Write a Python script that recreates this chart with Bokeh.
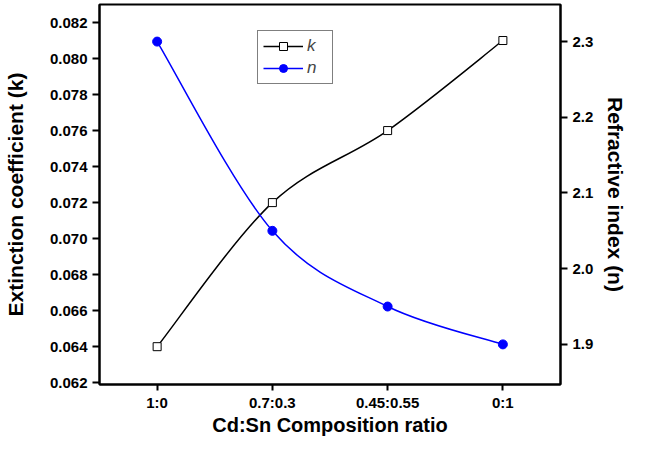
from bokeh.plotting import figure
from bokeh.models import (Range1d, LinearAxis, FixedTicker, PrintfTickFormatter,
                          ColumnDataSource, Legend, LegendItem)
from bokeh.embed import file_html
from bokeh.resources import INLINE

# ---- data ----
categories = ["1:0", "0.7:0.3", "0.45:0.55", "0:1"]
k_values = [0.064, 0.072, 0.076, 0.081]
n_values = [2.30, 2.05, 1.95, 1.90]
k_ticks = [0.062, 0.064, 0.066, 0.068, 0.070, 0.072, 0.074, 0.076, 0.078, 0.080, 0.082]
n_ticks = [1.9, 2.0, 2.1, 2.2, 2.3]
x_title = "Cd:Sn Composition ratio"
k_title = "Extinction coefficient (k)"
n_title = "Refractive index (n)"

xs = list(range(len(categories)))

FONT = "Liberation Sans"

p = figure(width=630, height=438, output_backend="svg", toolbar_location=None,
           x_range=Range1d(-0.5, len(categories) - 0.5),
           y_range=Range1d(0.0619, 0.0830),
           min_border_left=99, min_border_right=60, min_border_top=4, min_border_bottom=54)
p.extra_y_ranges = {"n": Range1d(1.847, 2.349)}

p.xgrid.visible = False
p.ygrid.visible = False
p.outline_line_color = "black"
p.outline_line_width = 2
p.background_fill_color = "white"
p.border_fill_color = "white"

def style_axis(ax):
    ax.axis_line_width = 2
    ax.axis_line_color = "black"
    ax.major_tick_line_width = 2
    ax.major_tick_line_color = "black"
    ax.major_tick_in = 0
    ax.major_tick_out = 7
    ax.minor_tick_line_color = None
    ax.major_label_text_font = FONT
    ax.major_label_text_font_style = "bold"
    ax.major_label_text_font_size = "15px"
    ax.major_label_text_color = "black"
    ax.major_label_standoff = 5
    ax.axis_label_text_font = FONT
    ax.axis_label_text_font_style = "bold"
    ax.axis_label_text_font_size = "21px"
    ax.axis_label_text_color = "black"

# bottom axis
xa = p.xaxis[0]
style_axis(xa)
xa.ticker = FixedTicker(ticks=xs)
xa.major_label_overrides = {i: c for i, c in zip(xs, categories)}
xa.major_tick_out = 6
xa.major_label_standoff = 3
xa.axis_label = x_title
xa.axis_label_standoff = 0
xa.axis_label_text_font_size = "20px"

# left axis
ya = p.yaxis[0]
style_axis(ya)
ya.ticker = FixedTicker(ticks=k_ticks)
ya.formatter = PrintfTickFormatter(format="%.3f")
ya.axis_label = k_title
ya.axis_label_standoff = 20

# right axis
ra = LinearAxis(y_range_name="n")
style_axis(ra)
ra.ticker = FixedTicker(ticks=n_ticks)
ra.formatter = PrintfTickFormatter(format="%.1f")
ra.axis_label = n_title
ra.axis_label_standoff = 8
p.add_layout(ra, "right")

# smooth (Catmull-Rom) bezier segments derived from data
def bezier_source(x, y):
    n = len(x)
    P = list(zip(x, y))
    d = dict(x0=[], y0=[], x1=[], y1=[], cx0=[], cy0=[], cx1=[], cy1=[])
    for i in range(n - 1):
        pm = P[i - 1] if i > 0 else P[i]
        p0 = P[i]
        p1 = P[i + 1]
        p2 = P[i + 2] if i + 2 < n else P[i + 1]
        d["x0"].append(p0[0]); d["y0"].append(p0[1])
        d["x1"].append(p1[0]); d["y1"].append(p1[1])
        d["cx0"].append(p0[0] + (p1[0] - pm[0]) / 6.0)
        d["cy0"].append(p0[1] + (p1[1] - pm[1]) / 6.0)
        d["cx1"].append(p1[0] - (p2[0] - p0[0]) / 6.0)
        d["cy1"].append(p1[1] - (p2[1] - p0[1]) / 6.0)
    return ColumnDataSource(d)

K_COLOR = "black"
N_COLOR = "#0000ff"

p.bezier(x0="x0", y0="y0", x1="x1", y1="y1", cx0="cx0", cy0="cy0", cx1="cx1", cy1="cy1",
         source=bezier_source(xs, k_values), line_color=K_COLOR, line_width=1.5)
p.bezier(x0="x0", y0="y0", x1="x1", y1="y1", cx0="cx0", cy0="cy0", cx1="cx1", cy1="cy1",
         source=bezier_source(xs, n_values), line_color=N_COLOR, line_width=1.5, y_range_name="n")

# legend proxies: single-point lines (draw nothing in the plot)
k_leg = p.line(x=xs[:1], y=k_values[:1], line_color=K_COLOR, line_width=1.5)
n_leg = p.line(x=xs[:1], y=n_values[:1], line_color=N_COLOR, line_width=1.5, y_range_name="n")

k_pts = p.scatter(xs, k_values, marker="square", size=8, fill_color="white",
                  line_color=K_COLOR, line_width=1)
n_pts = p.scatter(xs, n_values, marker="circle", size=9, fill_color=N_COLOR,
                  line_color=N_COLOR, y_range_name="n")

legend = Legend(items=[LegendItem(label="k", renderers=[k_leg, k_pts]),
                       LegendItem(label="n", renderers=[n_leg, n_pts])],
                location=(158, 300))
legend.label_text_font = FONT
legend.label_text_font_style = "italic"
legend.label_text_font_size = "17px"
legend.glyph_width = 40
legend.glyph_height = 20
legend.label_standoff = 4
legend.spacing = 2
legend.padding = 5
legend.margin = 0
legend.border_line_color = "black"
legend.border_line_width = 1
legend.background_fill_alpha = 1
p.add_layout(legend, "center")

open("out.html", "w").write(file_html(p, INLINE))
